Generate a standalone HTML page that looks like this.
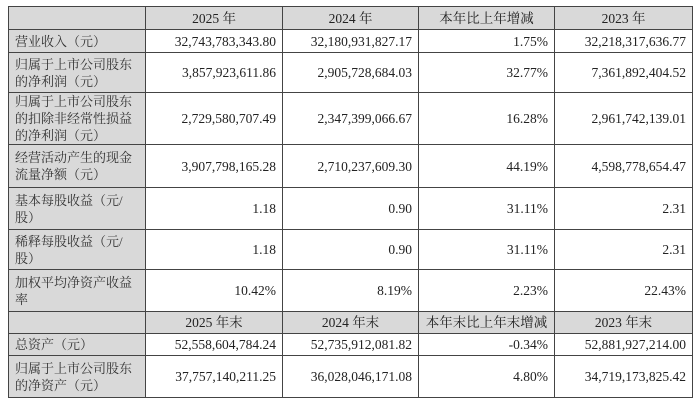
<!DOCTYPE html>
<html><head><meta charset="utf-8"><style>
body{margin:0;background:#fff;width:700px;height:400px;overflow:hidden}
table{position:absolute;left:8px;top:6px;border-collapse:collapse;font-family:"Liberation Serif","Noto Serif CJK SC",serif;font-size:13.5px;color:#222;table-layout:fixed}
td{border:1.5px solid #444;padding:0 6px;line-height:17px}
td.l{background:#d9d9d9;text-align:left;font-family:"Liberation Serif","Noto Serif CJK SC",serif;font-size:13px;color:#333}
td.n{text-align:right}
tr.h td{background:#d9d9d9;text-align:center}
</style></head><body>
<table>
<colgroup><col style="width:137px"><col style="width:137px"><col style="width:136px"><col style="width:136px"><col style="width:138px"></colgroup>
<tr class="h" style="height:23px"><td></td><td>2025 年</td><td>2024 年</td><td>本年比上年增减</td><td>2023 年</td></tr>
<tr style="height:23px"><td class="l">营业收入（元）</td><td class="n">32,743,783,343.80</td><td class="n">32,180,931,827.17</td><td class="n">1.75%</td><td class="n">32,218,317,636.77</td></tr>
<tr style="height:40px"><td class="l">归属于上市公司股东的净利润（元）</td><td class="n">3,857,923,611.86</td><td class="n">2,905,728,684.03</td><td class="n">32.77%</td><td class="n">7,361,892,404.52</td></tr>
<tr style="height:52px"><td class="l">归属于上市公司股东的扣除非经常性损益的净利润（元）</td><td class="n">2,729,580,707.49</td><td class="n">2,347,399,066.67</td><td class="n">16.28%</td><td class="n">2,961,742,139.01</td></tr>
<tr style="height:43px"><td class="l">经营活动产生的现金流量净额（元）</td><td class="n">3,907,798,165.28</td><td class="n">2,710,237,609.30</td><td class="n">44.19%</td><td class="n">4,598,778,654.47</td></tr>
<tr style="height:42px"><td class="l">基本每股收益（元/股）</td><td class="n">1.18</td><td class="n">0.90</td><td class="n">31.11%</td><td class="n">2.31</td></tr>
<tr style="height:40px"><td class="l">稀释每股收益（元/股）</td><td class="n">1.18</td><td class="n">0.90</td><td class="n">31.11%</td><td class="n">2.31</td></tr>
<tr style="height:42px"><td class="l">加权平均净资产收益率</td><td class="n">10.42%</td><td class="n">8.19%</td><td class="n">2.23%</td><td class="n">22.43%</td></tr>
<tr class="h" style="height:22px"><td></td><td>2025 年末</td><td>2024 年末</td><td>本年末比上年末增减</td><td>2023 年末</td></tr>
<tr style="height:22px"><td class="l">总资产（元）</td><td class="n">52,558,604,784.24</td><td class="n">52,735,912,081.82</td><td class="n">-0.34%</td><td class="n">52,881,927,214.00</td></tr>
<tr style="height:42px"><td class="l">归属于上市公司股东的净资产（元）</td><td class="n">37,757,140,211.25</td><td class="n">36,028,046,171.08</td><td class="n">4.80%</td><td class="n">34,719,173,825.42</td></tr>
</table>
</body></html>
